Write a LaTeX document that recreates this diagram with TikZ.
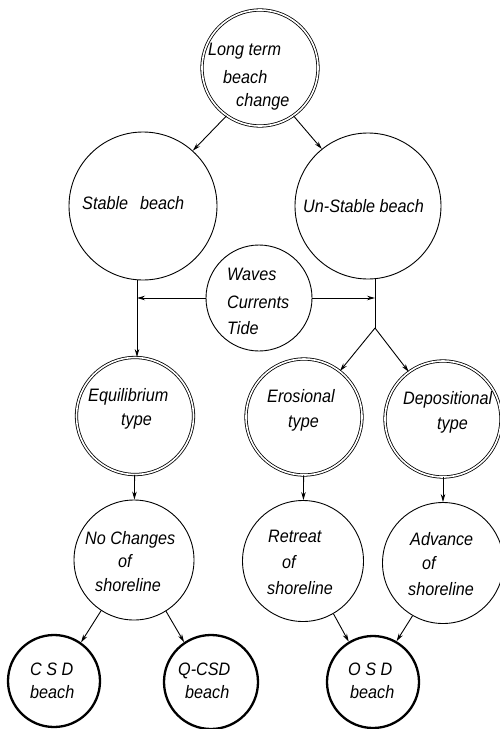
\documentclass[tikz,border=0pt]{standalone}
\usepackage{fontspec}
\setmainfont{Liberation Sans}
\newfontfamily\lf[FakeStretch=0.9]{Liberation Sans}
\usetikzlibrary{arrows.meta}
\begin{document}
\begin{tikzpicture}[x=1pt,y=-1pt,
  base/.style={circle,draw,inner sep=0pt},
  thin/.style={base,line width=0.9pt},
  dbl/.style={base,line width=0.8pt,double,double distance=1.6pt},
  thick/.style={base,line width=2.3pt},
  tx/.style={anchor=mid west,inner sep=0pt,font=\lf\itshape\fontsize{18}{21}\selectfont},
  ar/.style={line width=0.9pt,-{Stealth[length=8pt,width=4.5pt]}},
  ln/.style={line width=0.9pt}]
\useasboundingbox (0,0) rectangle (500,729);
% circles
\node[dbl,minimum size=116pt] (lt) at (260,68) {};
\node[thin,minimum size=148pt] (st) at (143,206) {};
\node[thin,minimum size=146pt] (ust) at (368,206) {};
\node[thin,minimum size=106pt] (wv) at (259,298) {};
\node[dbl,minimum size=117pt] (eq) at (135,416) {};
\node[dbl,minimum size=116pt] (er) at (304,417) {};
\node[dbl,minimum size=116pt] (dp) at (443,419) {};
\node[thin,minimum size=120pt] (nc) at (134,560) {};
\node[thin,minimum size=121pt] (rt) at (303,561) {};
\node[thin,minimum size=121pt] (ad) at (443,563) {};
\node[thick,minimum size=92pt] (csd) at (54,681) {};
\node[thick,minimum size=94pt] (qcsd) at (211,682) {};
\node[thick,minimum size=92pt] (osd) at (373,682) {};
% texts
\node[tx] (t1) at (208,53) {Long term};
\node[tx] (t2) at (223,81) {beach};
\node[tx] (t3) at (236,104) {change};
\node[tx] (t4) at (82,207) {Stable\hspace{12pt}beach};
\node[tx] (t5) at (303,210) {Un-Stable beach};
\node[tx] (t6) at (227,278) {Waves};
\node[tx] (t7) at (227,306) {Currents};
\node[tx] (t8) at (227,332) {Tide};
\node[tx] (t9) at (88,399) {Equilibrium};
\node[tx] (t10) at (121,423) {type};
\node[tx] (t11) at (267,400) {Erosional};
\node[tx] (t12) at (288,425) {type};
\node[tx] (t13) at (403,402) {Depositional};
\node[tx] (t14) at (437,427) {type};
\node[tx] (t15) at (85,542) {No Changes};
\node[tx] (t16) at (118,565) {of};
\node[tx] (t17) at (95,589) {shoreline};
\node[tx] (t18) at (268,540) {Retreat};
\node[tx] (t19) at (282,566) {of};
\node[tx] (t20) at (267,592) {shoreline};
\node[tx] (t21) at (410,543) {Advance};
\node[tx] (t22) at (422,567) {of};
\node[tx] (t23) at (408,593) {shoreline};
\node[tx] (t24) at (30,673) {C S D};
\node[tx] (t25) at (30,696) {beach};
\node[tx] (t26) at (178,673) {Q-CSD};
\node[tx] (t27) at (185,696) {beach};
\node[tx] (t28) at (348,673) {O S D};
\node[tx] (t29) at (350,696) {beach};
% junction points
\coordinate (jl) at (137,298);
\coordinate (jr) at (375,298);
\coordinate (br) at (375,328);
% connectors
\draw[ar] (lt.235) -- (st.48);
\draw[ar] (lt.305) -- (ust.129);
\draw[ar] (st.south -| jl) -- (eq.north -| jl);
\draw[ar] (wv.west) -- (jl);
\draw[ar] (wv.east) -- (jr);
\draw[ln] (ust.south -| jr) -- (br);
\draw[ar] (br) -- (er.52);
\draw[ar] (br) -- (dp.126);
\draw[ar] (eq) -- (nc);
\draw[ar] (er) -- (rt);
\draw[ar] (dp) -- (ad);
\draw[ar] (nc.237) -- (csd.55);
\draw[ar] (nc.302) -- (qcsd.124);
\draw[ar] (rt.300) -- (osd.121);
\draw[ar] (ad.240) -- (osd.60);
\end{tikzpicture}
\end{document}
